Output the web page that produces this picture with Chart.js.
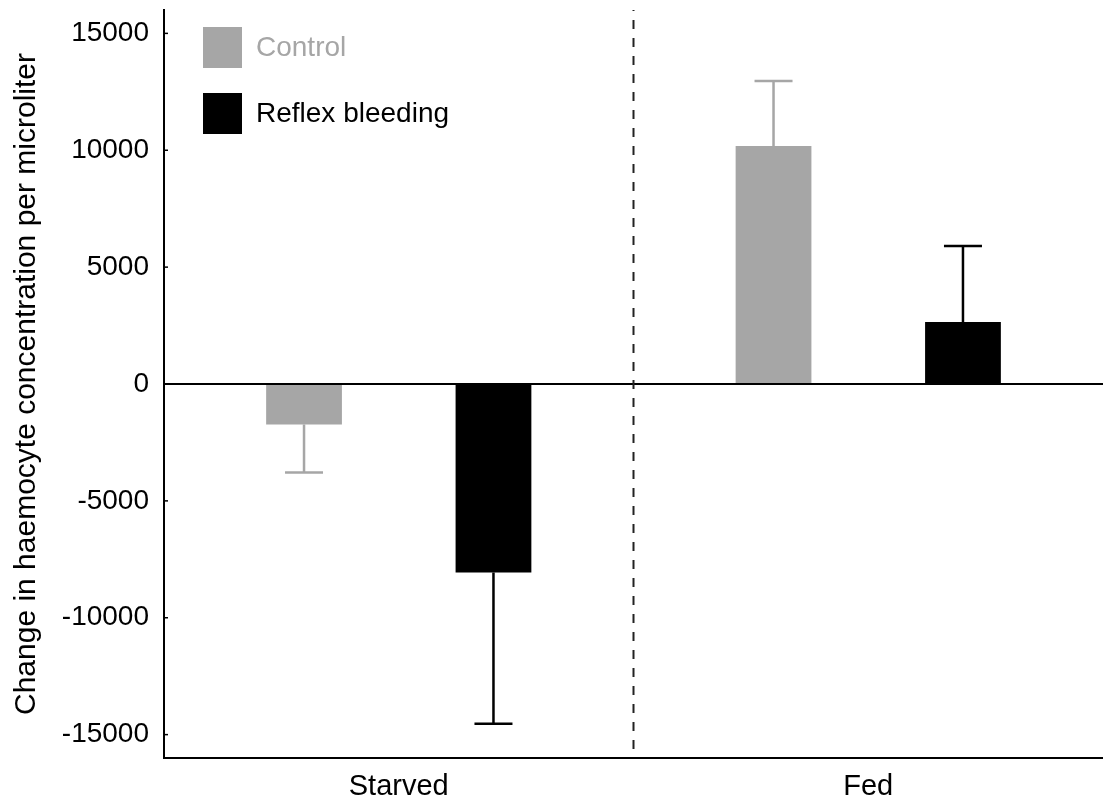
<!DOCTYPE html>
<html lang="en">
<head>
  <meta charset="UTF-8">
  <title>Haemocyte concentration change</title>
  <script src="https://cdn.jsdelivr.net/npm/chart.js"></script>
  <style>
    html, body { margin: 0; padding: 0; background: #fff; }
    .wrap { width: 1103px; height: 803px; position: relative; }
  </style>
</head>
<body>
  <div class="wrap">
    <canvas id="chart"></canvas>
  </div>

  <script>
    // data
    const categories = ['Starved', 'Fed'];
    const controlMeans = [-1730, 10180];
    const controlErr = [2060, 2780];
    const reflexMeans = [-8060, 2650];
    const reflexErr = [6480, 3250];
    const tickVals = [-15000, -10000, -5000, 0, 5000, 10000, 15000];

    const GREY = '#a6a6a6';
    const FONT = "'Liberation Sans', Arial, sans-serif";

    // error bars (one-sided, away from zero), divider, inner ticks, legend
    const extras = {
      id: 'extras',
      afterDatasetsDraw(chart) {
        const ctx = chart.ctx;
        const y = chart.scales.y, x = chart.scales.x;
        const area = chart.chartArea;
        const errs = [controlErr, reflexErr];

        chart.data.datasets.forEach((ds, i) => {
          const meta = chart.getDatasetMeta(i);
          meta.data.forEach((bar, j) => {
            const v = ds.data[j];
            const end = v + Math.sign(v) * errs[i][j];
            const yEnd = y.getPixelForValue(end);
            ctx.save();
            ctx.strokeStyle = ds.backgroundColor;
            ctx.lineWidth = 2.5;
            ctx.beginPath();
            ctx.moveTo(bar.x, bar.y);
            ctx.lineTo(bar.x, yEnd);
            ctx.moveTo(bar.x - 19, yEnd);
            ctx.lineTo(bar.x + 19, yEnd);
            ctx.stroke();
            ctx.restore();
          });
        });

        // dashed divider between groups
        const xd = (x.getPixelForValue(0) + x.getPixelForValue(1)) / 2;
        ctx.save();
        ctx.strokeStyle = '#222';
        ctx.lineWidth = 2;
        ctx.setLineDash([9, 9]);
        ctx.lineDashOffset = 8;
        ctx.beginPath();
        ctx.moveTo(xd, area.top);
        ctx.lineTo(xd, area.bottom);
        ctx.stroke();
        ctx.restore();

        // short inward tick marks on the y axis
        ctx.save();
        ctx.strokeStyle = '#000';
        ctx.lineWidth = 1.5;
        tickVals.forEach(v => {
          const py = y.getPixelForValue(v);
          ctx.beginPath();
          ctx.moveTo(area.left, py);
          ctx.lineTo(area.left + 4, py);
          ctx.stroke();
        });
        ctx.restore();

        // legend inside plot
        ctx.save();
        ctx.font = '28px ' + FONT;
        ctx.textBaseline = 'middle';
        chart.data.datasets.forEach((ds, i) => {
          const lx = area.left + 39;
          const ly = area.top + 17 + i * 66;
          ctx.fillStyle = ds.backgroundColor;
          ctx.fillRect(lx, ly, 39, 41);
          ctx.fillStyle = i === 0 ? GREY : '#000';
          ctx.fillText(ds.label, lx + 53, ly + 21);
        });
        ctx.restore();
      }
    };

    new Chart(document.getElementById('chart'), {
      type: 'bar',
      data: {
        labels: categories,
        datasets: [
          { label: 'Control', data: controlMeans, backgroundColor: GREY },
          { label: 'Reflex bleeding', data: reflexMeans, backgroundColor: '#000' }
        ]
      },
      options: {
        responsive: true,
        maintainAspectRatio: false,
        animation: false,
        layout: { padding: { top: 10, right: 0, bottom: 0, left: 0 } },
        datasets: { bar: { categoryPercentage: 0.807, barPercentage: 0.4 } },
        plugins: { legend: { display: false }, tooltip: { enabled: false } },
        scales: {
          x: {
            grid: { display: false, drawTicks: false },
            border: { display: true, color: '#000', width: 2 },
            ticks: { color: '#000', font: { family: FONT, size: 29 }, padding: 12 },
            afterFit(s) {
              s.height = 45;
              s.paddingLeft = 0; s.paddingRight = 0;
            }
          },
          y: {
            min: -16000,
            max: 16000,
            afterBuildTicks(s) { s.ticks = tickVals.map(v => ({ value: v })); },
            grid: {
              drawTicks: false,
              color: c => (c.tick && c.tick.value === 0 ? '#000' : 'rgba(0,0,0,0)'),
              lineWidth: 2
            },
            border: { display: true, color: '#000', width: 2 },
            ticks: {
              color: '#000',
              font: { family: FONT, size: 28 },
              padding: 15,
              callback: v => String(v)
            },
            title: {
              display: true,
              text: 'Change in haemocyte concentration per microliter',
              color: '#000',
              font: { family: FONT, size: 30 },
              padding: { top: 9, bottom: 0 }
            },
            afterFit(s) {
              s.width = 164;
              s.paddingTop = 0; s.paddingBottom = 0;
            }
          }
        }
      },
      plugins: [extras]
    });
  </script>
</body>
</html>
